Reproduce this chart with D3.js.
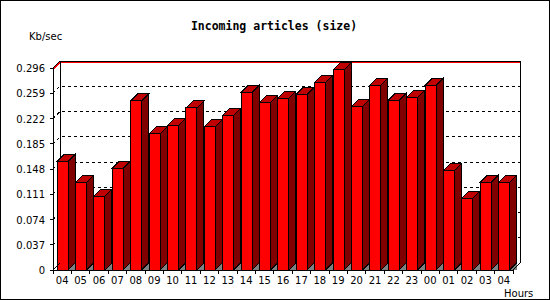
<!DOCTYPE html>
<html>
<head>
<meta charset="utf-8">
<script src="https://cdn.jsdelivr.net/npm/d3@7"></script>
<style>
  body { margin: 0; background: #fff; }
  svg { display: block; }
</style>
</head>
<body>
<script>

// hours shown on the x axis (24h window, wraps around)
const hours = ["04","05","06","07","08","09","10","11","12","13","14","15","16",
               "17","18","19","20","21","22","23","00","01","02","03","04"];

// Kb/sec
const values = [0.159, 0.1285, 0.108, 0.149, 0.2477, 0.1993, 0.212, 0.2374, 0.2096,
                0.2267, 0.2604, 0.2457, 0.2516, 0.2575, 0.275, 0.2935, 0.2399, 0.2707,
                0.249, 0.253, 0.2707, 0.146, 0.105, 0.1285, 0.1285];

const yTicks = [0, 0.037, 0.074, 0.111, 0.148, 0.185, 0.222, 0.259, 0.296];

const W = 550, H = 300;
const depth = 7;

// front plane
const pLeft = 53, pRight = 513, pBottom = 270, pTop = 68;

let x = d3.scaleBand()
    .domain(d3.range(hours.length))
    .range([pLeft, pRight])
    .padding(0);

let y = d3.scaleLinear()
    .domain([0, 0.296])
    .range([pBottom, pTop]);

let bw = x.bandwidth();

let svg = d3.select("body").append("svg")
    .attr("width", W)
    .attr("height", H)
    .style("shape-rendering", "crispEdges");

svg.append("rect")
    .attr("x", 0.5).attr("y", 0.5)
    .attr("width", W - 1).attr("height", H - 1)
    .attr("fill", "#fff")
    .attr("stroke", "#000");

let line = d3.line();

// back grid (dotted, running over the left wall too)
svg.append("g").selectAll("path")
    .data(yTicks.filter(v => v > 0 && v < 0.296))
    .join("path")
    .attr("d", v => line([[pLeft, y(v)], [pLeft + depth, y(v) - depth], [pRight + depth, y(v) - depth]]))
    .attr("fill", "none")
    .attr("stroke", "#000")
    .attr("stroke-dasharray", "3,3");

// max line
let vmax = d3.max(values);
svg.append("path")
    .attr("d", line([[pLeft, y(vmax)], [pLeft + depth, y(vmax) - depth], [pRight + depth, y(vmax) - depth]]))
    .attr("fill", "none")
    .attr("stroke", "#ff0000");

// back wall frame
svg.append("path")
    .attr("d", line([[pLeft + depth, pBottom - depth], [pLeft + depth, pTop - depth],
                     [pRight + depth, pTop - depth], [pRight + depth, pBottom - depth]]))
    .attr("fill", "none")
    .attr("stroke", "#000");

svg.append("path")
    .attr("d", line([[pLeft, pTop], [pLeft + depth, pTop - depth]]))
    .attr("stroke", "#000");

// bars
let bars = svg.append("g").selectAll("g")
    .data(values)
    .join("g");

bars.each(function (v, i) {
    let g = d3.select(this);
    let x0 = x(i) + bw * 0.22, x1 = x0 + bw * 0.6;
    let yt = y(v), yb = y(0);

    g.append("path")
        .attr("d", line([[x1, yb], [x1 + depth, yb], [x1 + depth, yb - depth]]) + "Z")
        .attr("fill", "#808080");

    g.append("path")
        .attr("d", line([[x1, yb], [x1, yt], [x1 + depth, yt - depth], [x1 + depth, yb - depth]]) + "Z")
        .attr("fill", "#800000")
        .attr("stroke", "#000");

    g.append("path")
        .attr("d", line([[x0, yt], [x1, yt], [x1 + depth, yt - depth], [x0 + depth, yt - depth]]) + "Z")
        .attr("fill", "#c00000")
        .attr("stroke", "#000");

    g.append("rect")
        .attr("x", x0).attr("y", yt)
        .attr("width", x1 - x0).attr("height", yb - yt)
        .attr("fill", "#ff0000")
        .attr("stroke", "#000");
});

// floor edges and front axes
svg.append("path")
    .attr("d", line([[pLeft, pBottom], [pLeft + depth, pBottom - depth]]))
    .attr("stroke", "#000");
svg.append("path")
    .attr("d", line([[pRight, pBottom], [pRight + depth, pBottom - depth]]))
    .attr("stroke", "#000");

svg.append("path")
    .attr("d", line([[pLeft, pTop], [pLeft, pBottom], [pRight, pBottom]]))
    .attr("fill", "none")
    .attr("stroke", "#000");

// y ticks and labels
let yAxis = svg.append("g");
yAxis.selectAll("line")
    .data(yTicks)
    .join("line")
    .attr("x1", pLeft - 3).attr("x2", pLeft)
    .attr("y1", v => y(v)).attr("y2", v => y(v))
    .attr("stroke", "#000");

yAxis.selectAll("text")
    .data(yTicks)
    .join("text")
    .attr("x", 45)
    .attr("y", v => y(v) + 4)
    .attr("text-anchor", "end")
    .attr("font-family", "DejaVu Sans")
    .attr("font-size", "10px")
    .text(v => String(v));

// x ticks and labels
let xAxis = svg.append("g");
xAxis.selectAll("line")
    .data(d3.range(hours.length + 1))
    .join("line")
    .attr("x1", i => pLeft + i * bw).attr("x2", i => pLeft + i * bw)
    .attr("y1", pBottom).attr("y2", pBottom + 4)
    .attr("stroke", "#000");

xAxis.selectAll("text")
    .data(hours)
    .join("text")
    .attr("x", (d, i) => x(i) + bw / 2)
    .attr("y", 284)
    .attr("text-anchor", "middle")
    .attr("font-family", "DejaVu Sans")
    .attr("font-size", "10px")
    .text(d => d);

svg.append("text")
    .attr("x", 504).attr("y", 297)
    .attr("font-family", "DejaVu Sans")
    .attr("font-size", "10px")
    .text("Hours");

svg.append("text")
    .attr("x", 29).attr("y", 40)
    .attr("font-family", "DejaVu Sans")
    .attr("font-size", "10px")
    .text("Kb/sec");

svg.append("text")
    .attr("x", 274).attr("y", 30)
    .attr("text-anchor", "middle")
    .attr("font-family", "DejaVu Sans Mono")
    .attr("font-weight", "bold")
    .attr("font-size", "11.5px")
    .text("Incoming articles (size)");

</script>
</body>
</html>
